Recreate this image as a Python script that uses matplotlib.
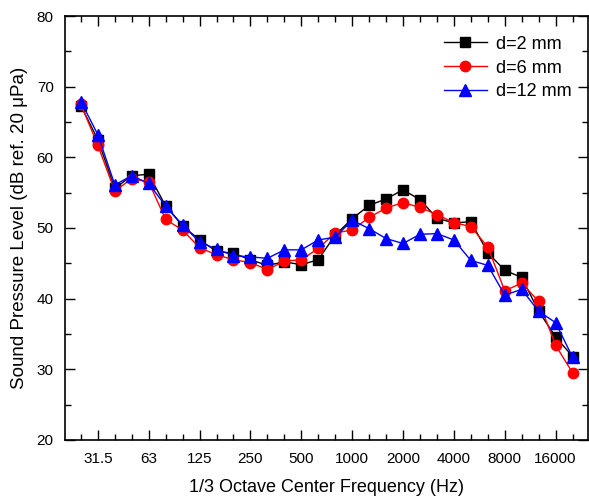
import numpy as np
import matplotlib
matplotlib.use("Agg")
import matplotlib.pyplot as plt
from matplotlib.ticker import FixedLocator, MultipleLocator

plt.rcParams['font.family'] = ['Liberation Sans', 'DejaVu Sans']

bands = ['25', '31.5', '40', '50', '63', '80', '100', '125', '160', '200',
         '250', '315', '400', '500', '630', '800', '1000', '1250', '1600', '2000',
         '2500', '3150', '4000', '5000', '6300', '8000', '10000', '12500', '16000', '20000']
labeled = ['31.5', '63', '125', '250', '500', '1000', '2000', '4000', '8000', '16000']

d2 = [67.3, 62.5, 55.6, 57.4, 57.6, 53.1, 50.3, 48.3, 46.7, 46.4,
      45.5, 44.7, 45.2, 44.8, 45.5, 49.0, 51.3, 53.2, 54.1, 55.4,
      54.0, 51.4, 50.7, 50.9, 46.5, 44.0, 43.0, 38.2, 34.6, 31.8]
d6 = [67.5, 61.7, 55.2, 57.0, 56.5, 51.2, 49.7, 47.2, 46.2, 45.5,
      45.1, 44.1, 45.3, 45.5, 47.1, 49.3, 49.7, 51.5, 52.8, 53.6,
      52.9, 51.9, 50.75, 50.2, 47.3, 41.1, 42.2, 39.6, 33.4, 29.5]
d12 = [67.9, 63.2, 56.1, 57.4, 56.3, 53.1, 50.4, 48.0, 47.0, 46.1,
       45.9, 45.7, 46.9, 46.9, 48.3, 48.7, 51.1, 49.9, 48.5, 47.8,
       49.1, 49.2, 48.3, 45.4, 44.7, 40.5, 41.3, 38.2, 36.6, 31.7]

x = np.arange(len(bands))

fig = plt.figure(figsize=(5.89, 5.01), dpi=100)
ax = fig.add_axes([0.110, 0.122, 0.888, 0.846])

ax.plot(x, d2, color='black', lw=1, marker='s', ms=7, label='d=2 mm')
ax.plot(x, d6, color='red', lw=1, marker='o', ms=7.5, label='d=6 mm')
ax.plot(x, d12, color='blue', lw=1, marker='^', ms=8, label='d=12 mm')

ax.set_xlim(-0.95, 29.9)
ax.set_ylim(20, 80)

major_pos = [bands.index(b) for b in labeled]
ax.xaxis.set_major_locator(FixedLocator(major_pos))
ax.set_xticklabels(labeled)
ax.xaxis.set_minor_locator(FixedLocator(x))
ax.yaxis.set_major_locator(MultipleLocator(10))
ax.yaxis.set_minor_locator(MultipleLocator(5))

ax.tick_params(which='both', direction='in', top=True, right=True, labelsize=11, width=1)
ax.tick_params(which='major', length=7)
ax.tick_params(which='minor', length=4)
ax.tick_params(axis='x', pad=9)
ax.tick_params(axis='y', pad=8)
for s in ax.spines.values():
    s.set_linewidth(1.2)

ax.set_xlabel('1/3 Octave Center Frequency (Hz)', fontsize=13, labelpad=9)
ax.set_ylabel('Sound Pressure Level (dB ref. 20 μPa)', fontsize=13.5, labelpad=6)

ax.legend(loc='upper right', bbox_to_anchor=(1.0, 0.992), frameon=False,
          fontsize=13, handlelength=2.4, handletextpad=0.5, labelspacing=0.38)

fig.savefig('out.png', dpi=100)
